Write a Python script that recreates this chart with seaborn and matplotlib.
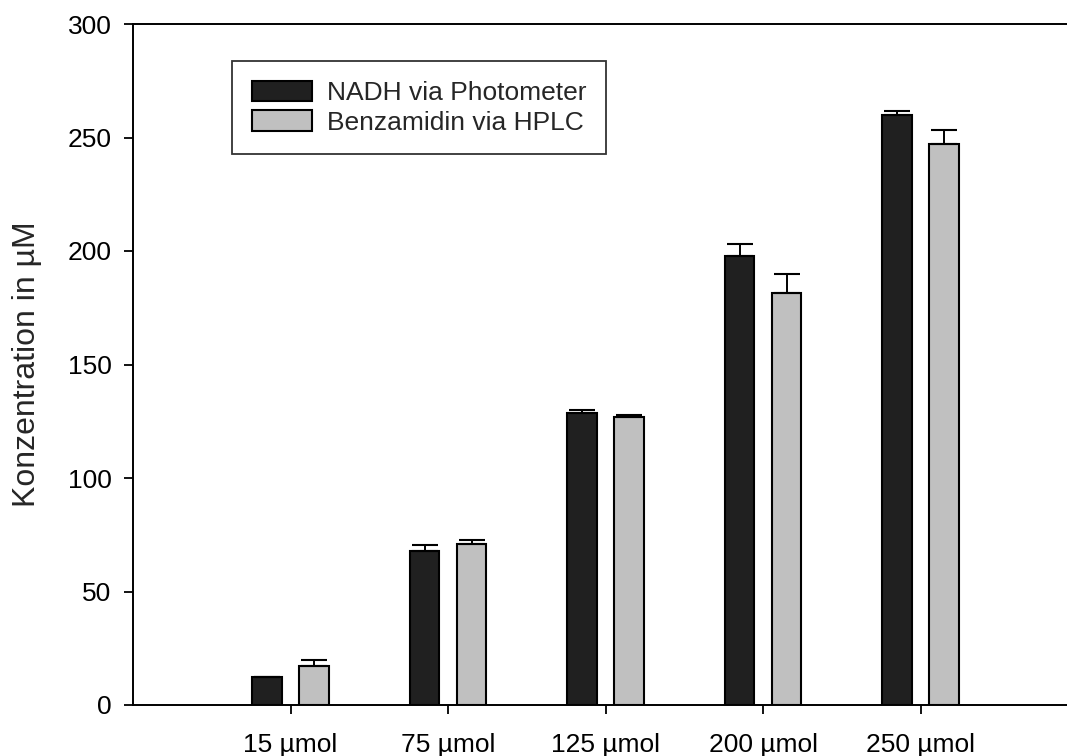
import matplotlib
matplotlib.use("Agg")
import matplotlib.pyplot as plt
import seaborn as sns
import pandas as pd
import numpy as np

categories = ["15 µmol", "75 µmol", "125 µmol", "200 µmol", "250 µmol"]
series_names = ["NADH via Photometer", "Benzamidin via HPLC"]
nadh_values = [12.5, 68.0, 128.5, 198.0, 259.8]
nadh_errors = [0.0, 2.6, 1.3, 5.0, 1.9]
benz_values = [17.2, 71.0, 127.0, 181.5, 247.0]
benz_errors = [2.5, 1.6, 0.9, 8.3, 6.2]
yticks = [0, 50, 100, 150, 200, 250, 300]

df = pd.DataFrame({
    "cat": categories * 2,
    "series": [series_names[0]] * 5 + [series_names[1]] * 5,
    "value": nadh_values + benz_values,
})

sns.set_theme(style="white")
plt.rcParams["font.family"] = ["Liberation Sans", "DejaVu Sans"]

fig = plt.figure(figsize=(10.67, 7.56), dpi=100)
ax = fig.add_axes([133 / 1067, 51 / 756, 1 - 133 / 1067, (705 - 24) / 756])

palette = {series_names[0]: "#202020", series_names[1]: "#c0c0c0"}
sns.barplot(data=df, x="cat", y="value", hue="series", order=categories,
            hue_order=series_names, palette=palette, errorbar=None,
            width=0.597, gap=0.38, edgecolor="black", linewidth=1.5,
            saturation=1, ax=ax, legend=True)

# error bars (upper only) placed on the seaborn bars
errs = {series_names[0]: nadh_errors, series_names[1]: benz_errors}
vals = {series_names[0]: nadh_values, series_names[1]: benz_values}
for container, name in zip(ax.containers, series_names):
    xs = [p.get_x() + p.get_width() / 2 for p in container.patches]
    e = np.array(errs[name])
    ax.errorbar(xs, vals[name], yerr=[np.zeros_like(e), e], fmt="none",
                ecolor="black", elinewidth=1.4, capsize=9.5, capthick=1.5,
                zorder=1)

ax.set_xlim(-1.0, 4.93)
ax.set_ylim(0, 300)
ax.set_yticks(yticks)
ax.set_yticklabels([str(t) for t in yticks])
ax.set_xlabel("")
ax.set_ylabel("Konzentration in µM", fontsize=23, labelpad=18)

for s in ["left", "bottom", "top"]:
    ax.spines[s].set_visible(True)
    ax.spines[s].set_color("black")
    ax.spines[s].set_linewidth(1.4)
ax.spines["right"].set_visible(False)

ax.tick_params(axis="both", which="major", direction="out", length=6.5,
               width=1.3, color="black", labelsize=19, labelcolor="black",
               bottom=True, left=True)
ax.tick_params(axis="x", pad=14)
ax.tick_params(axis="y", pad=9)

leg = ax.legend(loc="upper left", bbox_to_anchor=(99 / 934, 1 - 37 / 681),
                frameon=True, fontsize=19, handlelength=2.3, handleheight=0.8,
                handletextpad=0.55, borderpad=0.75, labelspacing=0.2,
                fancybox=False, borderaxespad=0)
leg.get_frame().set_edgecolor("black")
leg.get_frame().set_linewidth(1.3)
for h in leg.legend_handles:
    h.set_edgecolor("black")
    h.set_linewidth(1.5)

fig.savefig("out.png", dpi=100)
